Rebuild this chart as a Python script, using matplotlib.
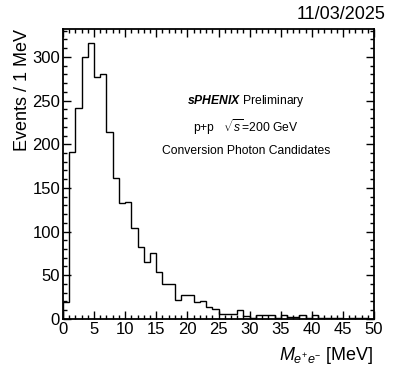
import matplotlib
matplotlib.use("Agg")
import matplotlib.pyplot as plt
import numpy as np
from matplotlib.ticker import MultipleLocator

plt.rcParams["font.family"] = ["Liberation Sans", "DejaVu Sans"]
plt.rcParams["mathtext.fontset"] = "custom"
plt.rcParams["mathtext.rm"] = "Liberation Sans"
plt.rcParams["mathtext.it"] = "Liberation Sans:italic"
plt.rcParams["mathtext.bf"] = "Liberation Sans:italic:bold"

# e+e- invariant mass histogram, 1 MeV bins from 0 to 50 MeV
bin_edges = np.arange(0, 51, 1)
counts = [19, 191, 241, 300, 316, 277, 280, 214, 161, 133,
          134, 104, 82, 65, 75, 54, 40, 40, 22, 27,
          27, 19, 20, 14, 11, 6, 6, 6, 10, 3,
          1, 4, 4, 4, 1, 4, 2, 2, 4, 1,
          4, 1, 1, 1, 1, 0, 1, 1, 1, 0]

date_label = "11/03/2025"
x_label = r"$M_{e^{+}e^{-}}$ [MeV]"
y_label = "Events / 1 MeV"
notes = [r"$\mathbf{sPHENIX}$ Preliminary",
         r"p+p   $\sqrt{s}$=200 GeV",
         "Conversion Photon Candidates"]

fig = plt.figure(figsize=(3.93, 3.81), dpi=100)
ax = fig.add_axes([0.160, 0.163, 0.792, 0.761])

ax.stairs(counts, bin_edges, color="black", linewidth=1.0)

ax.set_xlim(0, 50)
ax.set_ylim(0, 332)
ax.xaxis.set_major_locator(MultipleLocator(5))
ax.xaxis.set_minor_locator(MultipleLocator(1))
ax.yaxis.set_major_locator(MultipleLocator(50))
ax.yaxis.set_minor_locator(MultipleLocator(10))
ax.tick_params(which="both", direction="in", top=True, right=True,
               labelsize=12, width=1.0)
ax.tick_params(which="major", length=6, pad=2)
ax.tick_params(which="minor", length=3)
for sp in ax.spines.values():
    sp.set_linewidth(1.3)

# annotations inside the frame
for txt, yy in zip(notes, [0.752, 0.662, 0.579]):
    ax.text(0.588, yy, txt, transform=ax.transAxes, ha="center",
            va="center", fontsize=8.7)

fig.text(0.95, 0.068, x_label, ha="right", va="center", fontsize=13)
fig.text(0.056, 0.924, y_label, ha="center", va="top", rotation=90,
         fontsize=13)
fig.text(0.98, 0.963, date_label, ha="right", va="center", fontsize=13)

fig.savefig("out.png", dpi=100)
